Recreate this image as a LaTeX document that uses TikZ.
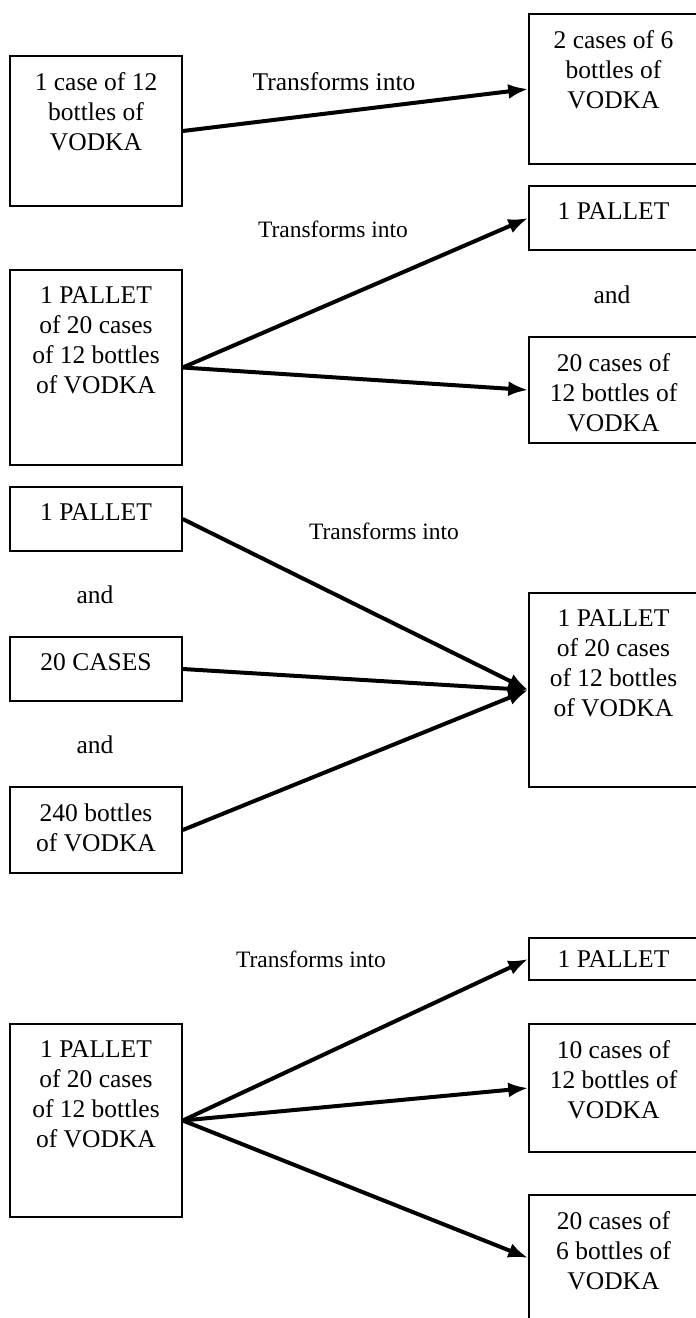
\documentclass[tikz,border=0pt]{standalone}
\usepackage{fontspec}
\setmainfont{Liberation Serif}
\usetikzlibrary{arrows.meta, positioning}

\begin{document}
\begin{tikzpicture}[x=1pt, y=-1pt,
    box/.style={draw, line width=1.5pt, minimum width=172pt, inner sep=0pt},
    rbox/.style={box, minimum width=169pt},
    txt/.style={align=center, inner sep=0pt, font=\fontsize{25.5}{30}\selectfont},
    lbl/.style={inner sep=0pt, font=\fontsize{23.5}{28}\selectfont},
    arr/.style={-{Latex[length=20pt, width=15pt]}, line width=4pt}]

    \useasboundingbox (0,0) rectangle (696,1318);

    % Boxes on the left
    \node (caseA) [box, minimum height=150pt] at (96,131) {};
    \node (palletA) [box, minimum height=195pt] at (96,367.5) {};
    \node (palletB) [box, minimum height=64pt] at (96,519) {};
    \node (casesB) [box, minimum height=64pt] at (96,669) {};
    \node (bottlesB) [box, minimum height=86pt] at (96,830) {};
    \node (palletC) [box, minimum height=193pt] at (96,1120.5) {};

    % Boxes on the right
    \node (casesA) [rbox, minimum height=150pt] at (613.5,89) {};
    \node (palletA2) [rbox, minimum height=64pt] at (613.5,218) {};
    \node (casesA2) [rbox, minimum height=106pt] at (613.5,390) {};
    \node (palletB2) [rbox, minimum height=194pt] at (613.5,690) {};
    \node (palletC2) [rbox, minimum height=42pt] at (613.5,959) {};
    \node (casesC2) [rbox, minimum height=128pt] at (613.5,1088) {};
    \node (casesC3) [rbox, minimum height=126pt] at (613.5,1258) {};

    % Texts in the boxes
    \node (caseAtxt) [txt, below=17pt of caseA.north] {1 case of 12\\bottles of\\VODKA};
    \node (palletAtxt) [txt, below=17pt of palletA.north] {1 PALLET\\of 20 cases\\of 12 bottles\\of VODKA};
    \node (palletBtxt) [txt, below=17pt of palletB.north] {1 PALLET};
    \node (casesBtxt) [txt, below=17pt of casesB.north] {20 CASES};
    \node (bottlesBtxt) [txt, below=17pt of bottlesB.north] {240 bottles\\of VODKA};
    \node (palletCtxt) [txt, below=17pt of palletC.north] {1 PALLET\\of 20 cases\\of 12 bottles\\of VODKA};

    \node (casesAtxt) [txt, below=17pt of casesA.north] {2 cases of 6\\bottles of\\VODKA};
    \node (palletA2txt) [txt, below=17pt of palletA2.north] {1 PALLET};
    \node (casesA2txt) [txt, below=17pt of casesA2.north] {20 cases of\\12 bottles of\\VODKA};
    \node (palletB2txt) [txt, below=17pt of palletB2.north] {1 PALLET\\of 20 cases\\of 12 bottles\\of VODKA};
    \node (palletC2txt) [txt, below=13pt of palletC2.north] {1 PALLET};
    \node (casesC2txt) [txt, below=17pt of casesC2.north] {10 cases of\\12 bottles of\\VODKA};
    \node (casesC3txt) [txt, below=17pt of casesC3.north] {20 cases of\\6 bottles of\\VODKA};

    % Other labels
    \node (intoA) [txt] at (334,82) {Transforms into};
    \node (intoB) [lbl] at (333,229) {Transforms into};
    \node (andA) [txt] at (612,295) {and};
    \node (intoC) [lbl] at (384,531) {Transforms into};
    \node (andB) [txt] at (95,595) {and};
    \node (andC) [txt] at (95,745) {and};
    \node (intoD) [lbl] at (311,959) {Transforms into};

    % Arrows
    \draw[arr] (caseA.east) -- (casesA.west);

    \draw[arr] (palletA.east) -- (palletA2.west);
    \draw[arr] (palletA.east) -- (casesA2.west);

    \draw[arr] (palletB.east) -- (palletB2.west);
    \draw[arr] (casesB.east) -- (palletB2.west);
    \draw[arr] (bottlesB.east) -- (palletB2.west);

    \draw[arr] (palletC.east) -- (palletC2.west);
    \draw[arr] (palletC.east) -- (casesC2.west);
    \draw[arr] (palletC.east) -- (casesC3.west);

\end{tikzpicture}
\end{document}
